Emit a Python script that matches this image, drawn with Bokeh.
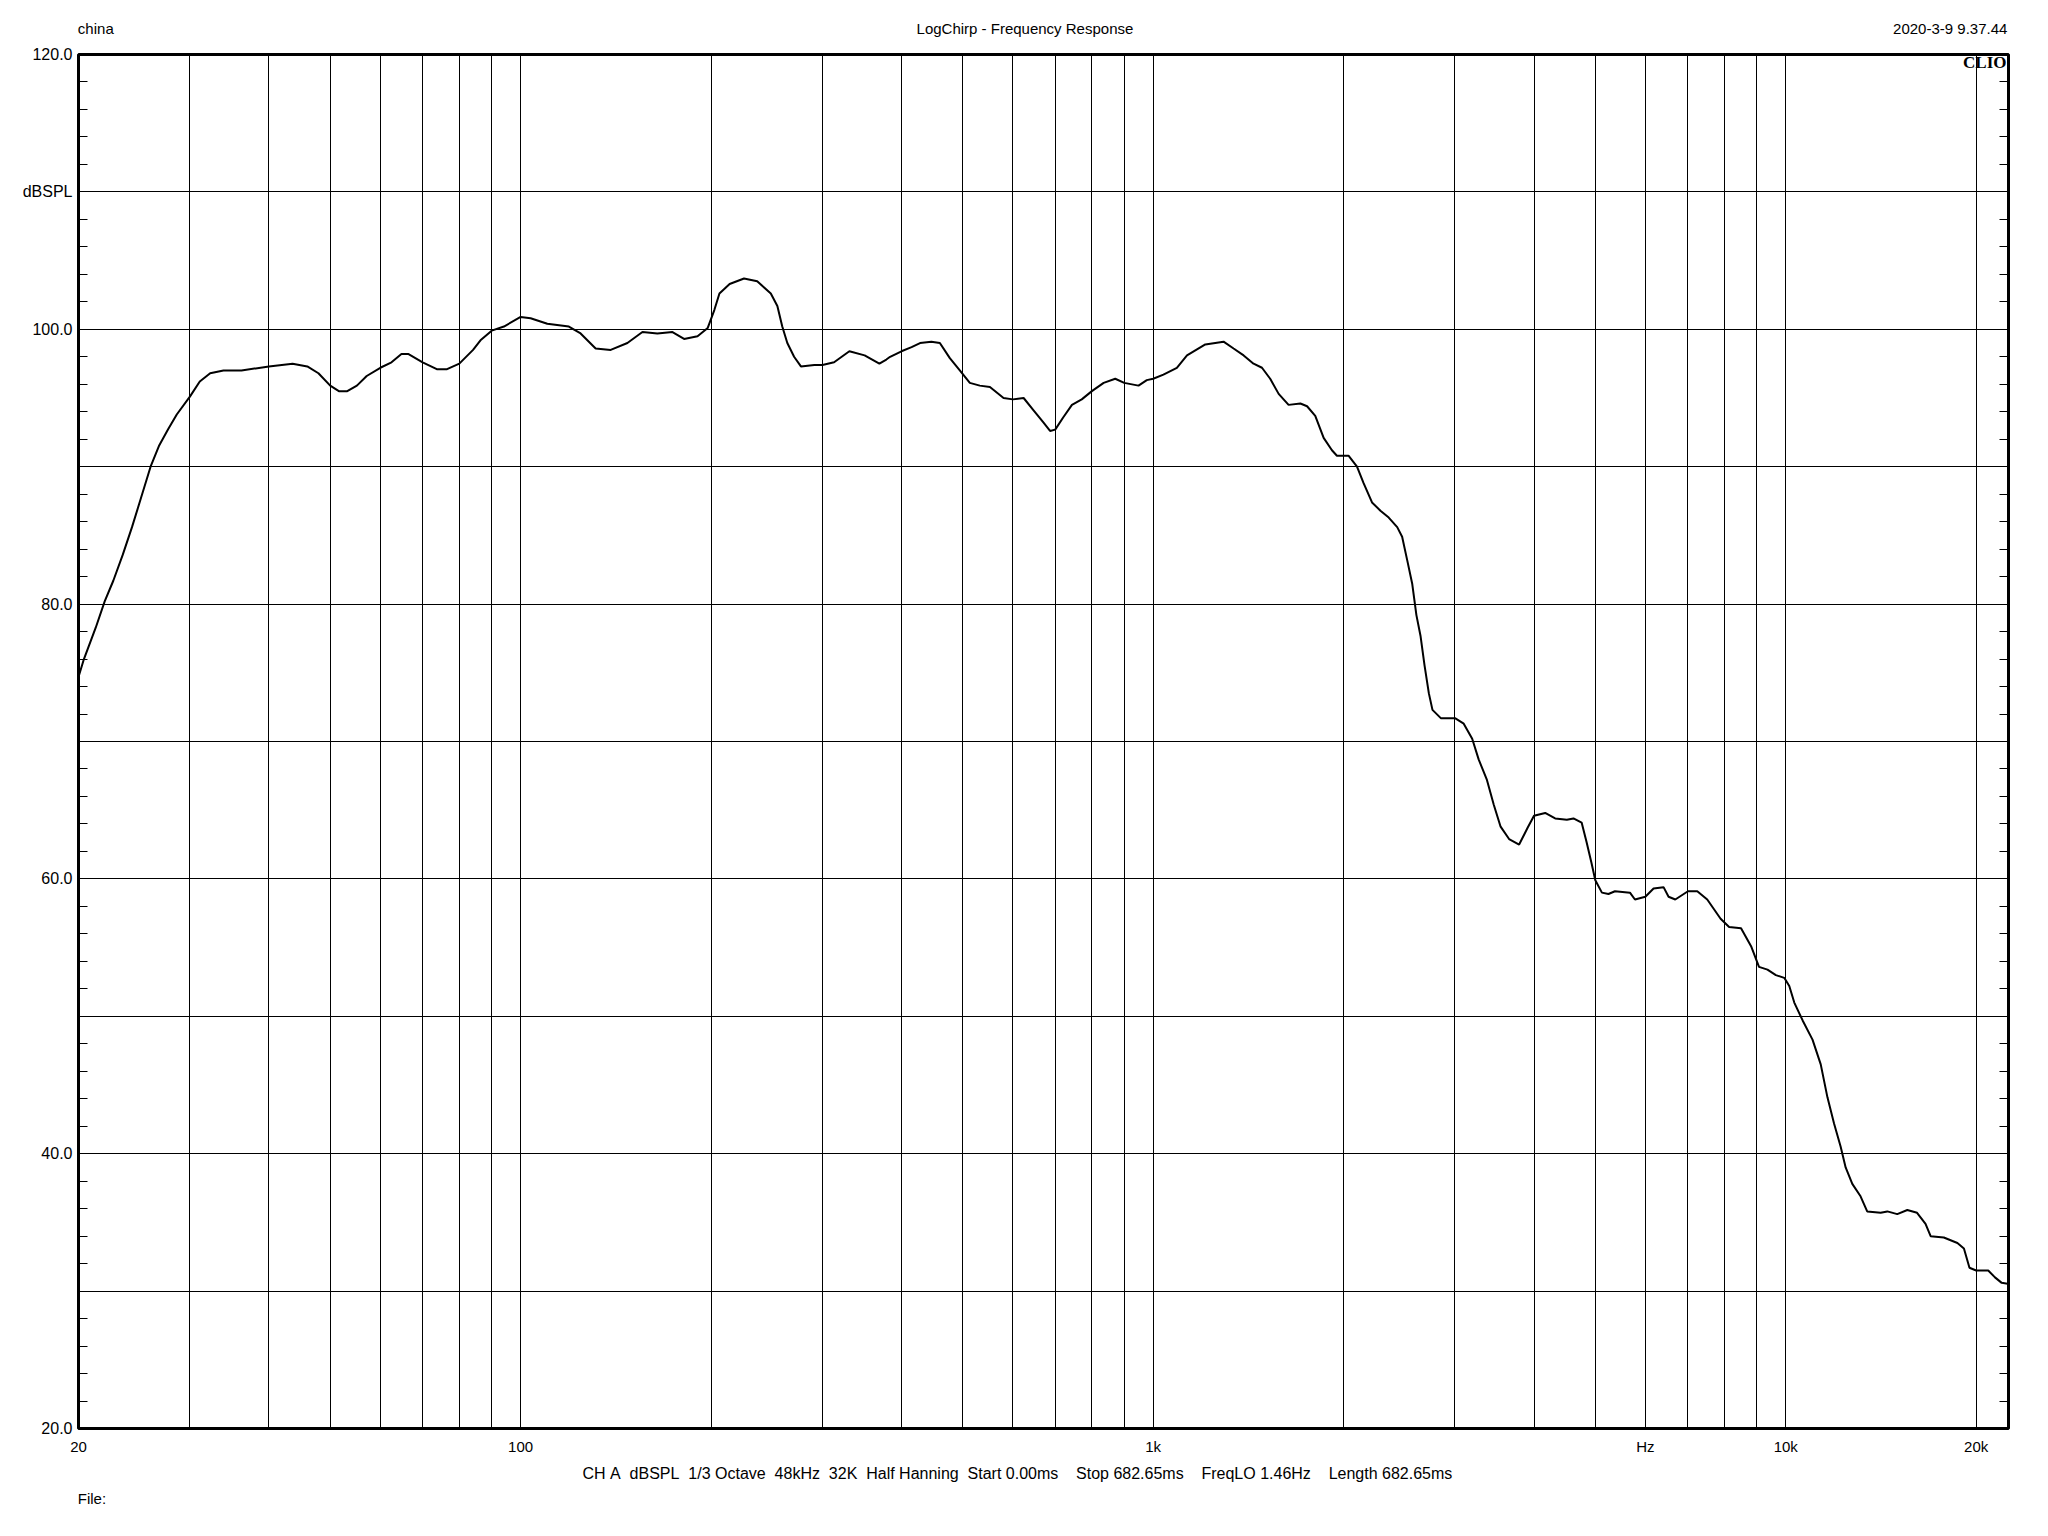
from bokeh.plotting import figure
from bokeh.models import Range1d, FixedTicker, LinearAxis, LogAxis, Label
from bokeh.embed import file_html
from bokeh.resources import INLINE

# ---- data ----
freq_hz = [20, 20.4, 21.3, 22.0, 22.7, 23.5, 24.3, 25.1, 26.0, 26.8, 27.7, 28.6, 30.0, 31.1, 32.3,
           33.9, 36.2, 40.0, 43.6, 46.0, 47.9, 50.0, 51.6, 53.2, 55.1, 57.1, 60.0, 62.5, 64.8, 66.5,
           70.0, 73.7, 76.5, 80.0, 84.1, 86.4, 90, 94.1, 100, 103.7, 110.2, 119.2, 124.4, 131.4,
           138.8, 147.5, 155.8, 164.5, 173.8, 181.3, 190.4, 197.6, 202.4, 206.2, 214.0, 225.5,
           236.6, 248.6, 254.6, 259.2, 264.0, 270.6, 277.4, 291.3, 300, 313, 330.9, 349.8, 369.1,
           378.6, 383.8, 400, 415, 428, 446, 460, 477, 495, 513, 532, 552, 580, 600, 624, 647, 671,
           687, 700, 721, 744, 771, 800, 835, 871, 900, 948, 977, 1000, 1038, 1090, 1131, 1209,
           1292, 1340, 1390, 1441, 1486, 1531, 1579, 1637, 1709, 1751, 1804, 1860, 1917, 1952,
           2036, 2100, 2151, 2218, 2287, 2357, 2431, 2475, 2521, 2567, 2607, 2646, 2686, 2728,
           2764, 2849, 3000, 3097, 3194, 3270, 3370, 3455, 3542, 3653, 3789, 3906, 4000, 4166,
           4320, 4508, 4618, 4757, 4842, 4929, 5000, 5122, 5245, 5371, 5672, 5776, 5999, 6181,
           6410, 6528, 6690, 7006, 7247, 7515, 7889, 8138, 8499, 8815, 9073, 9357, 9647, 9946,
           10130, 10316, 10635, 11024, 11359, 11640, 11923, 12214, 12437, 12742, 13131, 13452,
           14127, 14475, 15008, 15567, 16130, 16635, 16947, 17780, 18680, 19130, 19520, 20000,
           20900, 21420, 21950, 22630]
spl_db = [74.7, 76.0, 78.3, 80.2, 81.7, 83.6, 85.6, 87.7, 90.0, 91.5, 92.7, 93.8, 95.1, 96.2, 96.8,
          97.0, 97.0, 97.3, 97.5, 97.3, 96.8, 95.9, 95.5, 95.5, 95.9, 96.6, 97.2, 97.6, 98.2, 98.2,
          97.6, 97.1, 97.1, 97.5, 98.5, 99.2, 99.9, 100.2, 100.9, 100.8, 100.4, 100.2, 99.7, 98.6,
          98.5, 99.0, 99.8, 99.7, 99.8, 99.3, 99.5, 100.1, 101.4, 102.6, 103.3, 103.7,
          103.5, 102.6, 101.7, 100.2, 99.0, 98.0, 97.3, 97.4, 97.4, 97.6, 98.4, 98.1, 97.5,
          97.8, 98.0, 98.4, 98.7, 99.0, 99.1, 99.0, 97.9, 97.0, 96.1, 95.9, 95.8, 95.0, 94.9, 95.0, 94.1, 93.2,
          92.6, 92.7, 93.6, 94.5, 94.9, 95.5, 96.1, 96.4, 96.1, 95.9, 96.3, 96.4, 96.7, 97.2, 98.1, 98.9,
          99.1, 98.6, 98.1, 97.5, 97.2, 96.4, 95.3, 94.5, 94.6, 94.4, 93.7, 92.1, 91.2, 90.8,
          90.8, 90.0, 88.8, 87.4, 86.8, 86.3, 85.6, 84.9, 83.2, 81.5, 79.2, 77.7, 75.5, 73.5,
          72.3, 71.7, 71.7, 71.3, 70.2, 68.7, 67.2, 65.4, 63.8, 62.9, 62.5, 63.7, 64.6, 64.8,
          64.4, 64.3, 64.4, 64.1, 62.7, 61.2, 59.9, 59.0, 58.9, 59.1, 59.0, 58.5, 58.7, 59.3,
          59.4, 58.7, 58.5, 59.1, 59.1, 58.5, 57.1, 56.5, 56.4, 55.1, 53.6, 53.4, 53.0, 52.8,
          52.2, 51.0, 49.7, 48.3, 46.5, 44.1, 42.2, 40.5, 39.0, 37.8, 36.9, 35.8,
          35.7, 35.8, 35.6, 35.9, 35.7, 34.9, 34.0, 33.9, 33.5, 33.1, 31.7, 31.5,
          31.5, 31.0, 30.6, 30.5]

x_grid_freqs = [30, 40, 50, 60, 70, 80, 90, 100, 200, 300, 400, 500, 600, 700, 800, 900,
                1000, 2000, 3000, 4000, 5000, 6000, 7000, 8000, 9000, 10000, 20000]
x_label_ticks = [20, 100, 1000, 6000, 10000, 20000]
x_label_texts = ["20", "100", "1k", "Hz", "10k", "20k"]
y_grid_levels = [30, 40, 50, 60, 70, 80, 90, 100, 110]
y_label_ticks = [20, 40, 60, 80, 100, 110, 120]
y_label_texts = ["20.0", "40.0", "60.0", "80.0", "100.0", "dBSPL", "120.0"]
y_minor_ticks = [v for v in range(22, 120, 2) if v % 10 != 0]

header_texts = ["china", "LogChirp - Frequency Response", "2020-3-9 9.37.44"]
header_anchor_hz = [21.3, 627.0, 18200.0]          # horizontal centres of the header texts
info_groups = ["CH A", "dBSPL", "1/3 Octave", "48kHz", "32K", "Half Hanning",
               "Start 0.00ms", "Stop 682.65ms", "FreqLO 1.46Hz", "Length 682.65ms"]
info_anchor_hz = 610.0
file_text = "File:"
file_anchor_hz = 21.0
brand = "CLIO"

NB = "\u00a0"
info_text = ""
for i, g in enumerate(info_groups):
    if i > 0:
        info_text += NB * (2 if i < 7 else 4)
    info_text += g.replace(" ", NB)

FONT = "Liberation Sans"

p = figure(x_axis_type="log", x_range=Range1d(20, 22500), y_range=Range1d(20, 120),
           frame_width=1930, frame_height=1374,
           min_border_left=78, min_border_top=54, min_border_right=32, min_border_bottom=100,
           output_backend="svg", toolbar_location=None,
           background_fill_color="white", border_fill_color="white")

p.outline_line_color = "black"
p.outline_line_width = 3
p.outline_line_alpha = 1.0


def text_axis(ax, standoff, size="15px"):
    ax.axis_line_color = None
    ax.major_tick_line_color = None
    ax.minor_tick_line_color = None
    ax.major_tick_out = 0
    ax.major_tick_in = 0
    ax.minor_tick_out = 0
    ax.minor_tick_in = 0
    ax.major_label_standoff = standoff
    ax.major_label_text_font = FONT
    ax.major_label_text_font_size = size
    ax.major_label_text_color = "black"


# x axis (frequency labels)
xa = p.xaxis[0]
xa.ticker = FixedTicker(ticks=x_label_ticks, minor_ticks=[])
xa.major_label_overrides = {t: s for t, s in zip(x_label_ticks, x_label_texts)}
text_axis(xa, 9)

# measurement info line and file line below the frequency labels
info_ax = LogAxis(ticker=FixedTicker(ticks=[info_anchor_hz], minor_ticks=[]),
                  major_label_overrides={info_anchor_hz: info_text})
text_axis(info_ax, 7, "16px")
p.add_layout(info_ax, "below")
file_ax = LogAxis(ticker=FixedTicker(ticks=[file_anchor_hz], minor_ticks=[]),
                  major_label_overrides={file_anchor_hz: file_text})
text_axis(file_ax, 5)
p.add_layout(file_ax, "below")

# header row above the frame
head_ax = LogAxis(ticker=FixedTicker(ticks=header_anchor_hz, minor_ticks=[]),
                  major_label_overrides={t: s for t, s in zip(header_anchor_hz, header_texts)})
text_axis(head_ax, 18)
p.add_layout(head_ax, "above")

# y axis
ya = p.yaxis[0]
ya.ticker = FixedTicker(ticks=y_label_ticks, minor_ticks=y_minor_ticks)
ya.major_label_overrides = {t: s for t, s in zip(y_label_ticks, y_label_texts)}
text_axis(ya, 6, "16px")
ya.minor_tick_line_color = "black"
ya.minor_tick_in = 9
ya.minor_tick_line_width = 1

# right axis: minor ticks only
ra = LinearAxis(ticker=FixedTicker(ticks=[], minor_ticks=y_minor_ticks))
ra.axis_line_color = None
ra.major_tick_line_color = None
ra.major_tick_out = 0
ra.minor_tick_line_color = "black"
ra.minor_tick_in = 9
ra.minor_tick_out = 0
ra.minor_tick_line_width = 1
p.add_layout(ra, "right")

# grids
p.xgrid.ticker = FixedTicker(ticks=x_grid_freqs, minor_ticks=[])
p.ygrid.ticker = FixedTicker(ticks=y_grid_levels, minor_ticks=[])
for g in (p.xgrid[0], p.ygrid[0]):
    g.grid_line_color = "black"
    g.grid_line_width = 1
    g.grid_line_alpha = 1.0

# response curve
p.line(freq_hz, spl_db, line_color="black", line_width=2)

# CLIO mark inside the frame (screen units relative to frame bottom-left)
p.add_layout(Label(x=1928, y=1366, x_units="screen", y_units="screen", text=brand,
                   text_align="right", text_baseline="middle", text_font="Liberation Serif",
                   text_font_size="17px", text_font_style="bold", text_color="black"))

open("out.html", "w").write(file_html(p, INLINE))
